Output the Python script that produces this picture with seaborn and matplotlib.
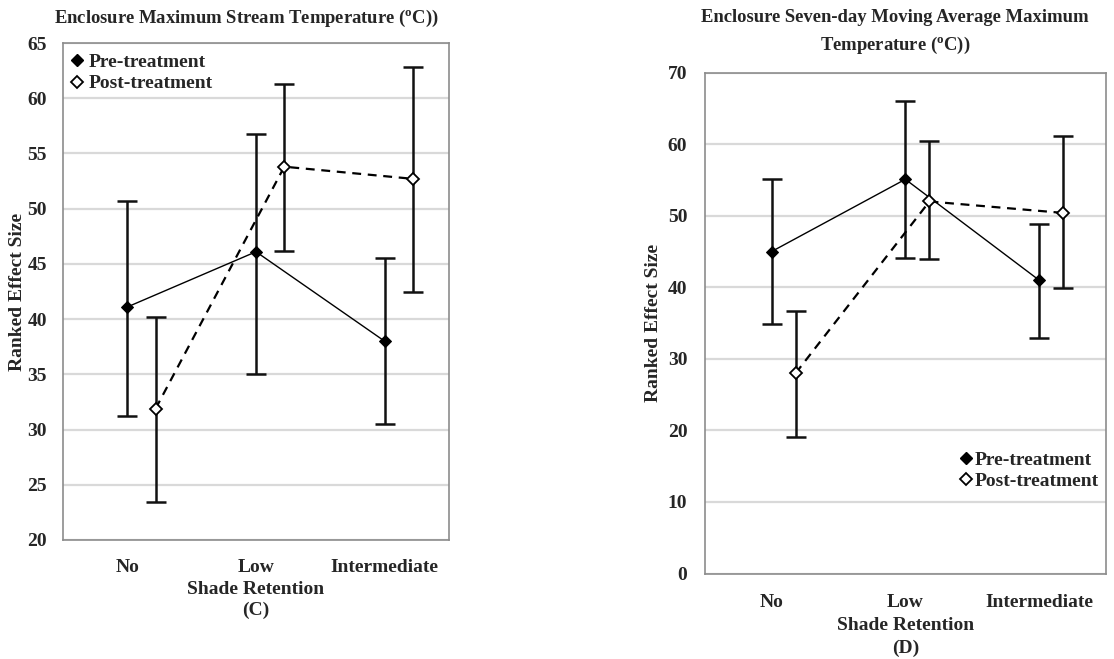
import matplotlib
matplotlib.use("Agg")
import matplotlib.pyplot as plt
from matplotlib.lines import Line2D
import seaborn as sns
import numpy as np
import pandas as pd

# ---- data ----
categories = ["No", "Low", "Intermediate"]

c_pre = [41.1, 46.1, 38.0]
c_pre_hi = [50.7, 56.8, 45.5]
c_pre_lo = [31.2, 35.0, 30.5]
c_post = [31.9, 53.8, 52.7]
c_post_hi = [40.2, 61.3, 62.8]
c_post_lo = [23.4, 46.2, 42.5]

d_pre = [45.0, 55.1, 41.0]
d_pre_hi = [55.2, 66.0, 48.8]
d_pre_lo = [34.9, 44.1, 32.9]
d_post = [28.0, 52.0, 50.4]
d_post_hi = [36.7, 60.4, 61.2]
d_post_lo = [19.1, 43.9, 39.9]

sns.set_theme(style="white")
plt.rcParams["font.family"] = ["Liberation Serif", "DejaVu Serif"]
plt.rcParams["font.weight"] = "bold"
plt.rcParams["axes.labelweight"] = "bold"
plt.rcParams["mathtext.fontset"] = "custom"
plt.rcParams["mathtext.rm"] = "Liberation Serif:bold"
plt.rcParams["mathtext.it"] = "Liberation Serif:bold"
plt.rcParams["mathtext.bf"] = "Liberation Serif:bold"

FS = 14
TFS = 13.4
fig = plt.figure(figsize=(11.14, 6.59), dpi=100)
axC = fig.add_axes([63/1114, 1-540/659, (449-63)/1114, (540-43)/659])
axD = fig.add_axes([704.7/1114, 1-573.5/659, (1106-704.7)/1114, (573.5-72.7)/659])


def draw(ax, pre, pre_hi, pre_lo, post, post_hi, post_lo, offset):
    x = np.arange(len(categories))
    df = pd.DataFrame({
        "x": np.concatenate([x, x + offset]),
        "v": pre + post,
        "s": ["Pre-treatment"] * 3 + ["Post-treatment"] * 3,
    })
    pre_df = df[df.s == "Pre-treatment"]
    post_df = df[df.s == "Post-treatment"]
    # error bars
    for d, hi, lo in ((pre_df, pre_hi, pre_lo), (post_df, post_hi, post_lo)):
        v = np.array(d["v"])
        ax.errorbar(d["x"], v, yerr=[v - np.array(lo), np.array(hi) - v],
                    fmt="none", ecolor="#111111", elinewidth=1.8, capsize=7,
                    capthick=1.8, zorder=3)
    sns.lineplot(data=pre_df, x="x", y="v", ax=ax, color="black", lw=1.0,
                 marker="D", markersize=6.5, markerfacecolor="black",
                 markeredgecolor="black", zorder=4, legend=False)
    sns.lineplot(data=post_df, x="x", y="v", ax=ax, color="black", lw=1.6,
                 linestyle=(0, (4, 3)), marker="D", markersize=6.5,
                 markerfacecolor="white", markeredgecolor="black",
                 markeredgewidth=1.3, zorder=4, legend=False)
    ax.set_xlim(-0.5, 2.5)
    ax.set_xticks(x)
    ax.set_xticklabels(categories, fontsize=FS, fontweight="bold")
    ax.yaxis.grid(True, color="#d9d9d9", lw=1.6)
    ax.xaxis.grid(False)
    ax.set_axisbelow(True)
    for sp in ax.spines.values():
        sp.set_color("#8c8c8c")
        sp.set_linewidth(1.2)
    ax.tick_params(axis="both", length=0, labelsize=FS)
    ax.set_ylabel("Ranked Effect Size", fontsize=FS, fontweight="bold")


draw(axC, c_pre, c_pre_hi, c_pre_lo, c_post, c_post_hi, c_post_lo, 0.22)
axC.set_ylim(20, 65)
axC.set_yticks(range(20, 66, 5))
axC.tick_params(axis="y", pad=11.5)
axC.tick_params(axis="x", pad=13.5)
axC.set_xlabel("Shade Retention\n(C)", fontsize=FS, fontweight="bold",
               linespacing=1.3, labelpad=3.5)
axC.yaxis.set_label_coords(-0.097, 0.5)

draw(axD, d_pre, d_pre_hi, d_pre_lo, d_post, d_post_hi, d_post_lo, 0.18)
axD.set_ylim(0, 70)
axD.set_yticks(range(0, 71, 10))
axD.tick_params(axis="y", pad=12.5)
axD.tick_params(axis="x", pad=15)
axD.set_xlabel("Shade Retention\n(D)", fontsize=FS, fontweight="bold",
               linespacing=1.45, labelpad=4)
axD.yaxis.set_label_coords(-0.106, 0.5)

for t in axC.get_yticklabels() + axD.get_yticklabels():
    t.set_fontweight("bold")

handles = [
    Line2D([], [], ls="none", marker="D", ms=6.5, mfc="black", mec="black"),
    Line2D([], [], ls="none", marker="D", ms=6.5, mfc="white", mec="black", mew=1.3),
]
labels = ["Pre-treatment", "Post-treatment"]
axC.legend(handles, labels, loc="upper left", bbox_to_anchor=(0.0, 0.995),
           frameon=False, prop={"size": FS, "weight": "bold"},
           handlelength=0.6, handletextpad=0.3, labelspacing=0.2,
           borderaxespad=0.1, borderpad=0.3)
axD.legend(handles, labels, loc="lower right", bbox_to_anchor=(1.012, 0.143),
           frameon=False, prop={"size": FS, "weight": "bold"},
           handlelength=0.6, handletextpad=0.15, labelspacing=0.2,
           borderaxespad=0.2)

fig.text(246/1114, 1-18/659, r"Enclosure Maximum Stream Temperature ($^{\mathrm{o}}$C))",
         ha="center", va="center", fontsize=TFS, fontweight="bold")
fig.text(895/1114, 1-18/659, "Enclosure Seven-day Moving Average Maximum",
         ha="center", va="center", fontsize=TFS, fontweight="bold")
fig.text(895/1114, 1-45/659, r"Temperature ($^{\mathrm{o}}$C))",
         ha="center", va="center", fontsize=TFS, fontweight="bold")

fig.savefig("out.png", dpi=100, facecolor="white")
